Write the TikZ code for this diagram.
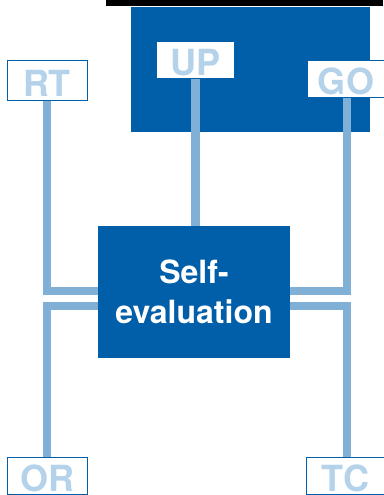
\documentclass[tikz,border=0pt]{standalone}
\usepackage{fontspec}
\setmainfont{TeX Gyre Heros}
\usetikzlibrary{backgrounds}
\definecolor{darkblue}{HTML}{005FA8}
\definecolor{lineblue}{HTML}{80B0D5}
\definecolor{textblue}{HTML}{B4D2EA}
\tikzset{
  label box/.style={draw=darkblue, line width=1pt, fill=white, text=textblue,
    font=\fontsize{36}{36}\selectfont\bfseries, minimum width=78pt, minimum height=36pt,
    inner sep=0pt, text height=31pt, text depth=0pt},
  main box/.style={fill=darkblue, draw=none, text=white, align=center,
    font=\fontsize{32}{40}\selectfont\bfseries, minimum width=192pt, minimum height=132pt, inner sep=0pt},
  link/.style={draw=lineblue, line width=8.5pt, line join=miter}
}
\begin{document}
\begin{tikzpicture}[x=1pt,y=-1pt]
\useasboundingbox (0,0) rectangle (383,495);
% top black bar
\fill[black] (106,0) rectangle (383,6);
% nodes
\node[label box, minimum width=80pt, minimum height=39pt] (RT) at (47,80.5) {RT};
\node[label box] (UP) at (195.7,60) {UP};
\node[label box] (GO) at (346,79) {GO};
\node[label box, minimum width=80pt, minimum height=37pt] (OR) at (47,475.5) {OR};
\node[label box, minimum height=37pt] (TC) at (345.5,475.5) {TC};
\node[main box] (self) at (194,292) {Self-\\evaluation};
\begin{pgfonlayer}{background}
\node[fill=darkblue, minimum width=239pt, minimum height=125pt, inner sep=0pt] (panel) at (250.5,69.5) {};
\draw[link] (RT.south) |- ([yshift=1pt]self.west);
\draw[link] ([yshift=-14pt]self.west) -| (OR.north);
\draw[link] ([xshift=1pt]GO.south) |- ([yshift=1pt]self.east);
\draw[link] ([yshift=-14pt]self.east) -| ([xshift=1.5pt]TC.north);
\draw[link] (UP.south) -- (UP.south |- self.north);
\end{pgfonlayer}
\end{tikzpicture}
\end{document}
